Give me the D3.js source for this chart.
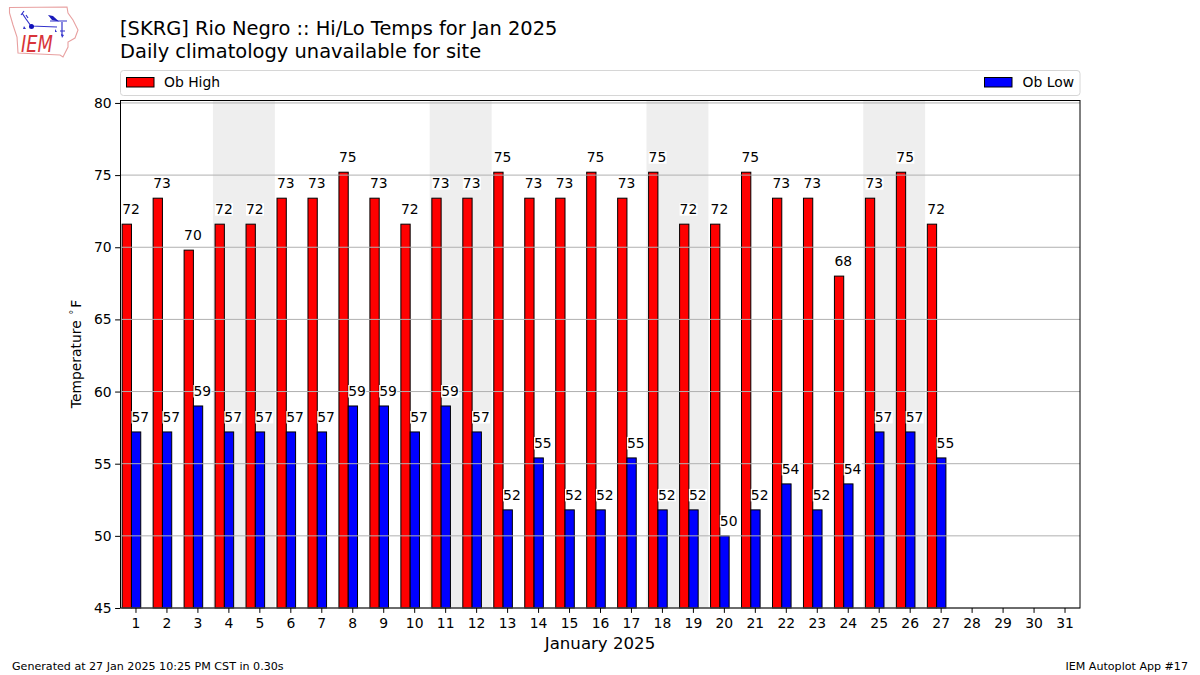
<!DOCTYPE html>
<html><head><meta charset="utf-8">
<script src="https://cdn.jsdelivr.net/npm/d3@7/dist/d3.min.js"></script>
<style>html,body{margin:0;padding:0;background:#fff}svg{display:block}text{font-family:"DejaVu Sans",sans-serif;fill:#000}</style>
</head><body><svg id="c" width="1200" height="675"></svg>
<script>
const days = d3.range(1, 32);
const obHigh = [71.6,73.4,69.8,71.6,71.6,73.4,73.4,75.2,73.4,71.6,73.4,73.4,75.2,73.4,73.4,75.2,73.4,75.2,71.6,71.6,75.2,73.4,73.4,68,73.4,75.2,71.6];
const obLow = [57.2,57.2,59,57.2,57.2,57.2,57.2,59,59,57.2,59,57.2,51.8,55.4,51.8,51.8,55.4,51.8,51.8,50,51.8,53.6,51.8,53.6,57.2,57.2,55.4];
const weekends = [[4,5],[11,12],[18,19],[25,26]];
const yTicks = [45,50,55,60,65,70,75,80];
const titleLines = ["[SKRG] Rio Negro :: Hi/Lo Temps for Jan 2025","Daily climatology unavailable for site"];
const seriesNames = ["Ob High","Ob Low"];
const seriesColors = ["#ff0000","#0000ff"];

const L=120,R=1080,T=100.5,B=608;
const x=d3.scaleLinear().domain([0.5,31.5]).range([L,R]);
const y=d3.scaleLinear().domain([45,80.17]).range([B,T]);
const svg=d3.select("#c");
const barW=x(1.3)-x(1);

// weekend shading
svg.append("g").selectAll("rect").data(weekends).join("rect")
 .attr("x",d=>x(d[0]-0.5)).attr("width",d=>x(d[1]+0.5)-x(d[0]-0.5))
 .attr("y",T).attr("height",B-T).attr("fill","#eeeeee");

// bars
function bars(vals,off,col){
 svg.append("g").selectAll("rect").data(vals).join("rect")
  .attr("x",(d,i)=>x(days[i]+off)).attr("width",barW)
  .attr("y",d=>y(d)).attr("height",d=>B-y(d))
  .attr("fill",col).attr("stroke","#000").attr("stroke-width",1);
}
bars(obHigh,-0.43,seriesColors[0]);
bars(obLow,-0.13,seriesColors[1]);

// grid above bars
svg.append("g").selectAll("line").data(yTicks).join("line")
 .attr("x1",L).attr("x2",R).attr("y1",d=>y(d)).attr("y2",d=>y(d))
 .attr("stroke","#b0b0b0").attr("stroke-width",1);

// value labels with white box
function labels(vals,off){
 const g=svg.append("g");
 vals.forEach((v,i)=>{
  const px=x(days[i]+off), py=y(v)-10;
  const s=String(Math.round(v));
  g.append("rect").attr("x",px).attr("y",py-11).attr("width",18).attr("height",12.5).attr("fill","#fff");
  g.append("text").attr("x",px).attr("y",py).attr("font-size",13.9).text(s);
 });
}
labels(obHigh,-0.43);
labels(obLow,-0.13);

// frame
svg.append("rect").attr("x",L+0.5).attr("y",T).attr("width",R-L-0.5).attr("height",B-T)
 .attr("fill","none").attr("stroke","#000").attr("stroke-width",1);

// axes
const xa=svg.append("g").attr("transform",`translate(0,${B})`)
 .call(d3.axisBottom(x).tickValues(days).tickSize(4.9).tickPadding(5).tickFormat(d3.format("d")));
const ya=svg.append("g").attr("transform",`translate(${L},0)`)
 .call(d3.axisLeft(y).tickValues(yTicks).tickSize(4.9).tickPadding(3.5).tickFormat(d3.format("d")));
[xa,ya].forEach(a=>{a.select(".domain").remove();a.selectAll("text").attr("font-size",13.9).attr("font-family",'"DejaVu Sans"');a.selectAll("line").attr("stroke","#000");});

// titles
titleLines.forEach((t,i)=>svg.append("text").attr("x",120).attr("y",[35,57.5][i]).attr("font-size",19.45).text(t));
svg.append("text").attr("x",600).attr("y",649).attr("text-anchor","middle").attr("font-size",16.6).text("January 2025");
const yl=svg.append("text").attr("transform","translate(81,354) rotate(-90)").attr("text-anchor","middle").attr("font-size",13.9);
yl.append("tspan").text("Temperature ");
yl.append("tspan").attr("font-size",10).attr("dy",-4).attr("dx",1).text("°");
yl.append("tspan").attr("dy",4).attr("dx",2).text("F");
svg.append("text").attr("x",12).attr("y",670).attr("font-size",11.1).text("Generated at 27 Jan 2025 10:25 PM CST in 0.30s");
svg.append("text").attr("x",1188).attr("y",670).attr("text-anchor","end").attr("font-size",11.1).text("IEM Autoplot App #17");

// legend
svg.append("rect").attr("x",120.5).attr("y",70.5).attr("width",959.5).attr("height",25).attr("rx",3)
 .attr("fill","#fff").attr("stroke","#d6d6d6");
[[126.5,164],[984.5,1022.5]].forEach((p,i)=>{
 svg.append("rect").attr("x",p[0]).attr("y",77.5).attr("width",27.5).attr("height",9.5).attr("fill",seriesColors[i]).attr("stroke","#000");
 svg.append("text").attr("x",p[1]).attr("y",87).attr("font-size",13.9).text(seriesNames[i]);
});

// IEM logo
const logo=svg.append("g");
logo.append("path").attr("d","M9.5 7.5 L67 7 L68 13 L73 20 L78 30 L75 38 L68 42 L68 47 L65 53 L63 57 L60 55 L18 53 L17 37 L13 25 L9.5 13 Z")
 .attr("fill","#fff").attr("stroke","#e8a0a0").attr("stroke-width",1.1);
logo.append("path").attr("d","M31 26 L57 27 M62 22 L62 36 M50 21 L67 21 M22 13 L26 19 L31 26 M21 15 L24 11 M26 15 L28 18 M60 31 L65 31")
 .attr("fill","none").attr("stroke","#3333cc").attr("stroke-width",1.2);
logo.append("circle").attr("cx",31.5).attr("cy",26.5).attr("r",2.5).attr("fill","#1111bb");
logo.append("path").attr("d","M48 15 L53 16 L59 21.5 L52 20 Z").attr("fill","#1a1abb");
logo.append("path").attr("d","M24 26 L26 29 L23 29 Z M55 29 L57 32 L55 32 Z M61 34 L64 35 L62 38 Z").attr("fill","#3333cc");
logo.append("text").attr("transform","translate(21,51.7) scale(0.89,1.12)").attr("font-family",'"Liberation Serif",serif').attr("font-style","italic").attr("font-size",20).style("fill","#d8343a").text("IEM");
</script></body></html>
